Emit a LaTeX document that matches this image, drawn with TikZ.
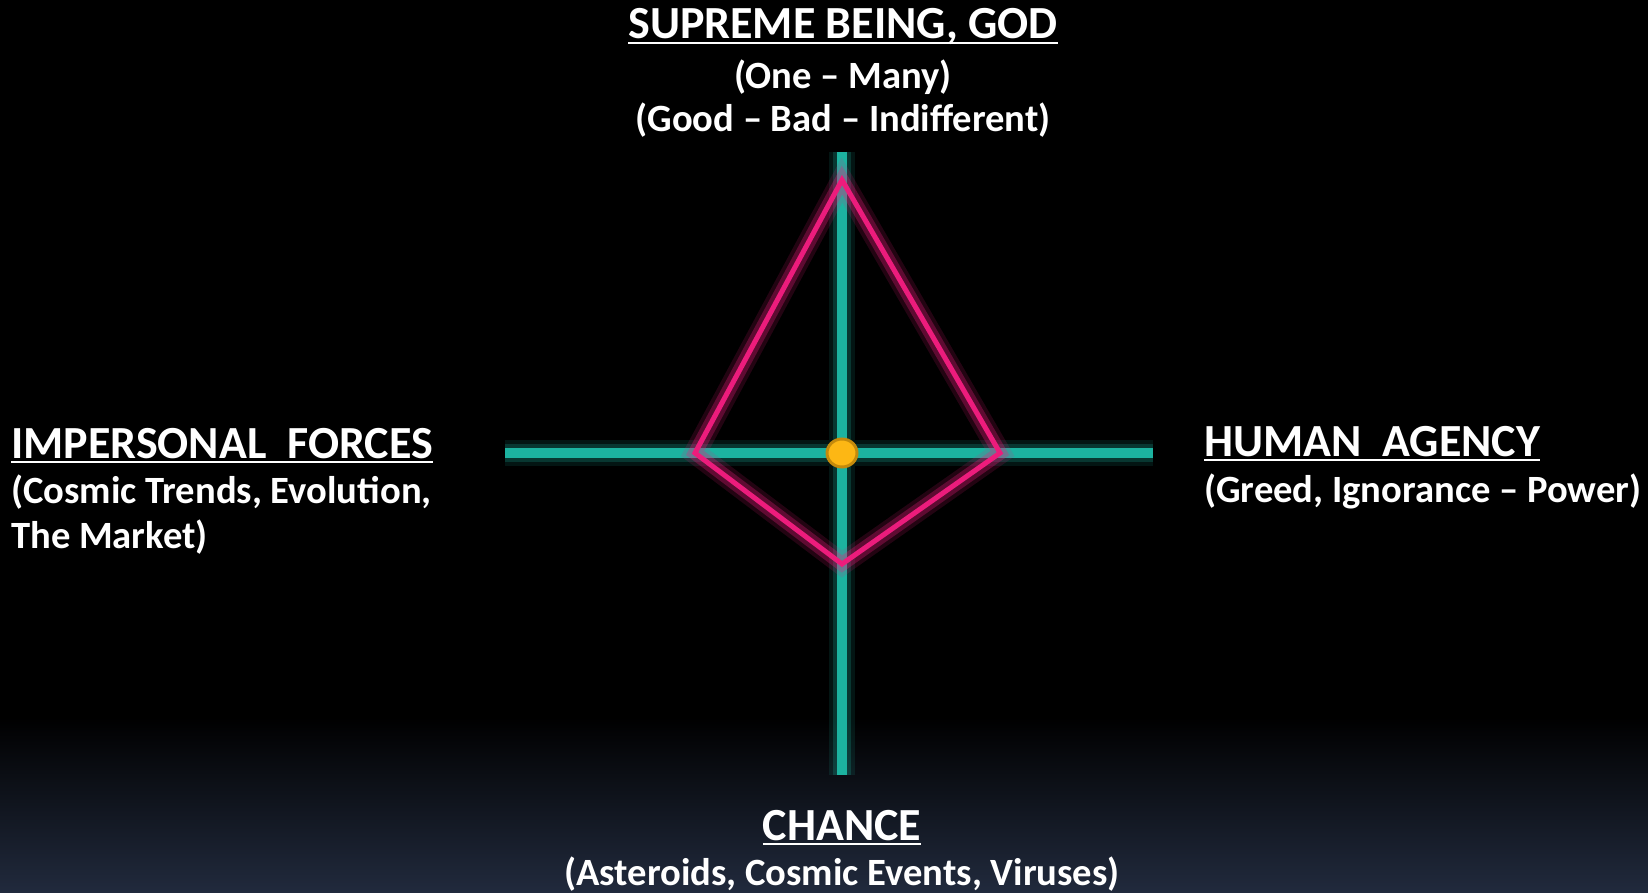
\documentclass[tikz,border=0pt]{standalone}
\usepackage{fontspec}
\setmainfont{Carlito}
\usepackage{xcolor}
\usetikzlibrary{positioning,shapes.geometric}
\definecolor{axisteal}{HTML}{1CB3A0}
\definecolor{hotpink}{HTML}{EC1C7C}
\definecolor{gold}{HTML}{FDB714}
\definecolor{goldedge}{HTML}{C48A0C}
\definecolor{nightblue}{HTML}{212A3D}
\newsavebox\hdbox
\newcommand{\ulhead}[1]{\sbox\hdbox{#1}\rlap{\rule[-5.2pt]{\wd\hdbox}{2.4pt}}\usebox\hdbox}

\begin{document}
\begin{tikzpicture}[x=1pt,y=-1pt,
  head/.style={text=white,inner sep=0pt,anchor=base,font=\fontsize{46}{50}\selectfont\bfseries},
  sub/.style={text=white,inner sep=0pt,font=\fontsize{38.6}{42}\selectfont\bfseries},
  axis/.style={draw=axisteal,line width=10pt},
  rhomb/.style={draw=hotpink,line width=5pt},
  hub/.style={ellipse,draw=goldedge,fill=gold,line width=3pt,minimum width=30pt,minimum height=28pt,inner sep=0pt}]
  \fill[black] (0,0) rectangle (1648,893);
  \shade[top color=black,bottom color=nightblue] (0,717) rectangle (1648,893);
  \useasboundingbox (0,0) rectangle (1648,893);

  \coordinate (mid) at (842,453);
  \coordinate (up) at (842,152);
  \coordinate (down) at (842,775);
  \coordinate (lft) at (505,453);
  \coordinate (rgt) at (1153,453);
  \coordinate (apex) at (842,180);
  \coordinate (wl) at (695,453);
  \coordinate (wr) at (1000,453);
  \coordinate (tip) at (842,564);

  \foreach \w/\o in {26pt/.12,18pt/.22}
    \draw[axisteal,line width=\w,opacity=\o] (lft) -- (rgt) (up) -- (down);
  \draw[axis] (lft) -- (rgt) (up) -- (down);
  \foreach \w/\o in {22pt/.15,14pt/.3}
    \draw[hotpink,line width=\w,opacity=\o] (apex) -- (wr) -- (tip) -- (wl) -- cycle;
  \draw[rhomb] (apex) -- (wr) -- (tip) -- (wl) -- cycle;
  \node[hub] (hub) at (mid) {};

  \node[head] (god) at (843,39) {\ulhead{SUPREME BEING, GOD}};
  \node[sub,below=49.5pt of god.base,anchor=base] (onemany) {(One – Many)};
  \node[sub,below=43pt of onemany.base,anchor=base] (goodbad) {(Good – Bad – Indifferent)};

  \node[head,anchor=base west] (forces) at (11,458) {\ulhead{IMPERSONAL\hspace{0.45em}FORCES}};
  \node[sub,below=45pt of forces.base west,anchor=base west] (trends) {(Cosmic Trends, Evolution,};
  \node[sub,below=45pt of trends.base west,anchor=base west] (market) {The Market)};

  \node[head,anchor=base west] (agency) at (1204,456) {\ulhead{HUMAN\hspace{0.45em}AGENCY}};
  \node[sub,below=46.5pt of agency.base west,anchor=base west] (greed) {(Greed, Ignorance – Power)};

  \node[head] (chance) at (842,840) {\ulhead{CHANCE}};
  \node[sub,below=45pt of chance.base,anchor=base] (asteroids) {(Asteroids, Cosmic Events, Viruses)};
\end{tikzpicture}
\end{document}
